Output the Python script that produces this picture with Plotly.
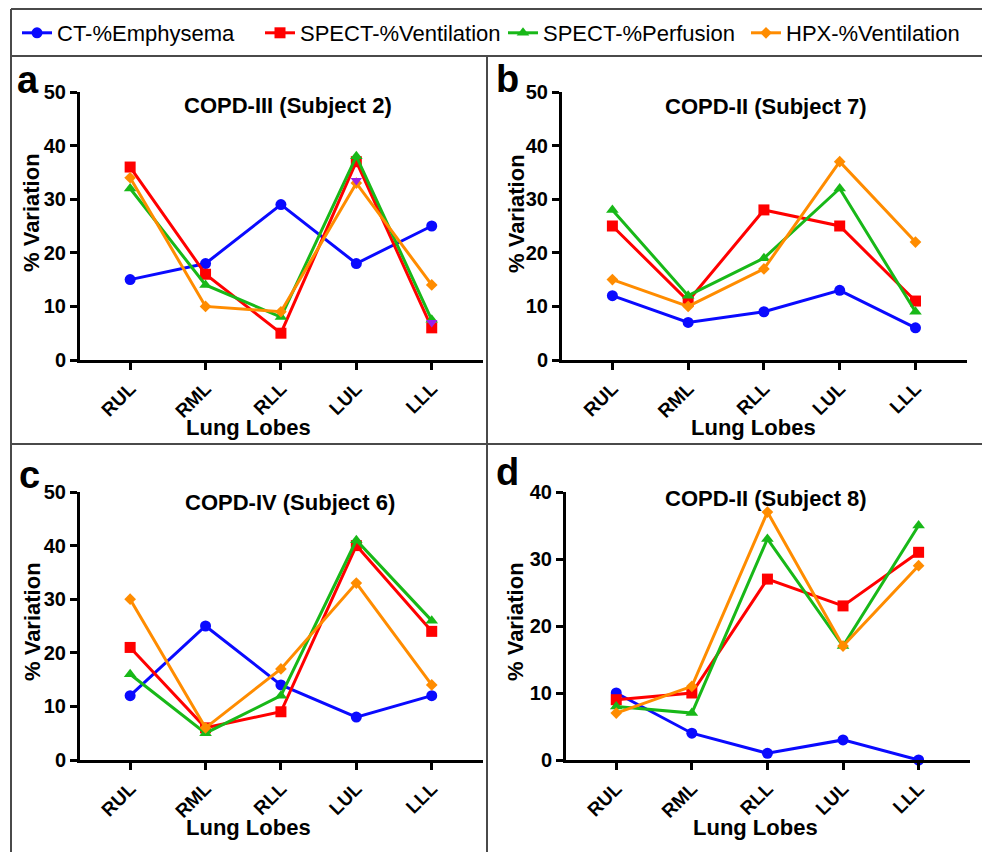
import plotly.graph_objects as go

# The page body has an 8px margin, so the figure is offset by 8px.
OFF = 8
W, H = 990 - OFF, 852 - OFF

lobes = ["RUL", "RML", "RLL", "LUL", "LLL"]
series_names = ["CT-%Emphysema", "SPECT-%Ventilation", "SPECT-%Perfusion", "HPX-%Ventilation"]
panel_letters = ["a", "b", "c", "d"]
panel_titles = ["COPD-III (Subject 2)", "COPD-II (Subject 7)", "COPD-IV (Subject 6)", "COPD-II (Subject 8)"]
y_title = "% Variation"
x_title = "Lung Lobes"
y_max = [50, 50, 50, 40]

# Panel a (COPD-III, Subject 2)
a_ct = [15, 18, 29, 18, 25]
a_spect_v = [36, 16, 5, 37, 6]
a_spect_p = [32, 14, 8, 38, 7.5]
a_hpx = [34, 10, 9, 33, 14]
a_extra = [None, None, None, 33.5, 7]  # stray purple markers visible in the panel

# Panel b (COPD-II, Subject 7)
b_ct = [12, 7, 9, 13, 6]
b_spect_v = [25, 11, 28, 25, 11]
b_spect_p = [28, 12, 19, 32, 9]
b_hpx = [15, 10, 17, 37, 22]

# Panel c (COPD-IV, Subject 6)
c_ct = [12, 25, 14, 8, 12]
c_spect_v = [21, 6, 9, 40, 24]
c_spect_p = [16, 5, 12, 41, 26]
c_hpx = [30, 6, 17, 33, 14]

# Panel d (COPD-II, Subject 8)
d_ct = [10, 4, 1, 3, 0]
d_spect_v = [9, 10, 27, 23, 31]
d_spect_p = [8, 7, 33, 17, 35]
d_hpx = [7, 11, 37, 17, 29]

panels = [
    [a_ct, a_spect_v, a_spect_p, a_hpx],
    [b_ct, b_spect_v, b_spect_p, b_hpx],
    [c_ct, c_spect_v, c_spect_p, c_hpx],
    [d_ct, d_spect_v, d_spect_p, d_hpx],
]

colors = ["#0a0aff", "#ff0000", "#18b818", "#ff8c00"]
symbols = ["circle", "square", "triangle-up", "diamond"]
msizes = [11, 11, 11, 9]

FONT = "Liberation Sans, Arial, sans-serif"


def px_x(p):
    return (p - OFF) / W


def px_y(p):
    return 1 - (p - OFF) / H


# plot areas in page pixels: (x_left, x_right, y_bottom(value 0), y_top(value max))
areas = [
    (80, 483, 360, 92),
    (562, 967, 360, 92),
    (80, 483, 760, 492),
    (566, 970, 760, 492),
]

fig = go.Figure()

for i, data in enumerate(panels):
    xa = "x" if i == 0 else f"x{i+1}"
    ya = "y" if i == 0 else f"y{i+1}"
    for s, vals in enumerate(data):
        fig.add_trace(go.Scatter(
            x=lobes, y=vals, mode="lines+markers", name=series_names[s],
            line=dict(color=colors[s], width=3),
            marker=dict(color=colors[s], symbol=symbols[s], size=msizes[s]),
            xaxis=xa, yaxis=ya, showlegend=(i == 0), legendgroup=series_names[s],
            cliponaxis=False,
        ))
    if i == 0:
        fig.add_trace(go.Scatter(
            x=lobes, y=a_extra, mode="markers", showlegend=False,
            marker=dict(color="#9b1fe8", symbol="triangle-down", size=10),
            xaxis=xa, yaxis=ya, cliponaxis=False,
        ))

layout = dict(
    width=W, height=H,
    margin=dict(l=0, r=0, t=0, b=0, autoexpand=False),
    paper_bgcolor="white", plot_bgcolor="white",
    font=dict(family=FONT, color="black"),
    legend=dict(
        orientation="h", x=px_x(17), xanchor="left", y=px_y(12), yanchor="top",
        font=dict(family=FONT, size=22, color="black"),
        entrywidth=198, entrywidthmode="pixels", bgcolor="rgba(0,0,0,0)",
    ),
    shapes=[], annotations=[],
)

for i, (xl, xr, yb, yt) in enumerate(areas):
    xk = "xaxis" if i == 0 else f"xaxis{i+1}"
    yk = "yaxis" if i == 0 else f"yaxis{i+1}"
    ya = "y" if i == 0 else f"y{i+1}"
    xa = "x" if i == 0 else f"x{i+1}"
    layout[xk] = dict(
        domain=[px_x(xl), px_x(xr)], anchor=ya, type="category",
        categoryorder="array", categoryarray=lobes,
        range=[-0.665, 4.68], showgrid=False, zeroline=False,
        showline=True, linecolor="black", linewidth=3,
        ticks="outside", ticklen=7, tickwidth=3, tickcolor="black",
        tickangle=-45,
        tickfont=dict(family=FONT, size=19, weight="bold"),
        fixedrange=True,
    )
    layout[yk] = dict(
        domain=[px_y(yb), px_y(yt)], anchor=xa,
        range=[0, y_max[i]], dtick=10, showgrid=False, zeroline=False,
        showline=True, linecolor="black", linewidth=3,
        ticks="outside", ticklen=7, tickwidth=3, tickcolor="black",
        tickfont=dict(family=FONT, size=20, weight="bold"),
        fixedrange=True,
    )

letter_pos = [(28, 80), (507, 79), (29, 475), (507, 472)]
title_pos = [(288, 105), (766, 107), (290, 502), (766, 498)]
ytitle_pos = [(32, 213), (517, 213), (32, 622), (515, 622)]
xtitle_pos = [(248, 428), (753, 428), (248, 827), (755, 827)]


def ann(text, x, y, size, angle=0):
    return dict(
        text=text, x=px_x(x), y=px_y(y), xref="paper", yref="paper",
        showarrow=False, xanchor="center", yanchor="middle", textangle=angle,
        font=dict(family=FONT, size=size, weight="bold", color="black"),
    )


for i in range(4):
    layout["annotations"].append(ann(panel_letters[i], *letter_pos[i], 38))
    layout["annotations"].append(ann(panel_titles[i], *title_pos[i], 22))
    layout["annotations"].append(ann(y_title, *ytitle_pos[i], 22, -90))
    layout["annotations"].append(ann(x_title, *xtitle_pos[i], 22))

frame = dict(color="#4a4a4a", width=2)
lines = [
    (11, 9, 985, 9), (11, 9, 11, 852), (985, 9, 985, 852),
    (11, 56, 985, 56), (487, 56, 487, 852), (11, 444, 985, 444),
]
for (x0, y0, x1, y1) in lines:
    layout["shapes"].append(dict(
        type="line", xref="paper", yref="paper",
        x0=px_x(x0), y0=px_y(y0), x1=px_x(x1), y1=px_y(y1), line=frame,
    ))

fig.update_layout(**layout)
fig.write_html("out.html")
